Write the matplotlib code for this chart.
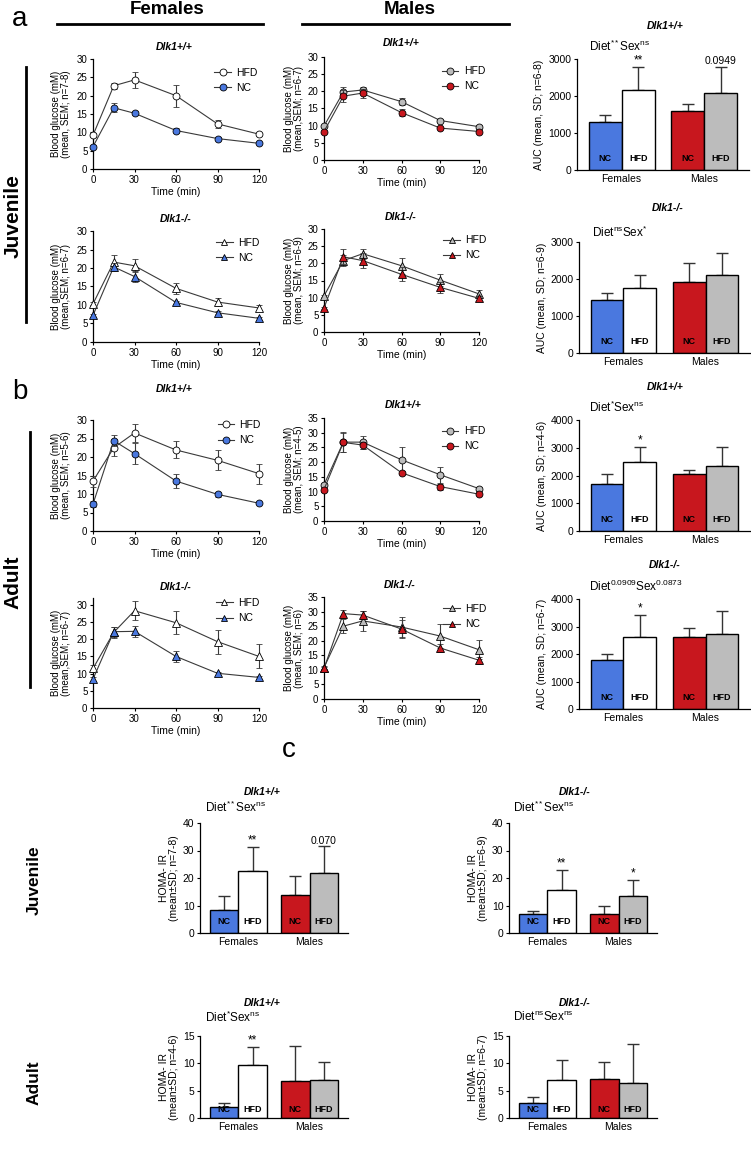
import matplotlib
matplotlib.use("Agg")
import matplotlib.pyplot as plt
from matplotlib.lines import Line2D

plt.rcParams["font.family"] = "Liberation Sans"
plt.rcParams["mathtext.fontset"] = "custom"
plt.rcParams["mathtext.rm"] = "Liberation Sans"
plt.rcParams["mathtext.it"] = "Liberation Sans:italic"
plt.rcParams["mathtext.bf"] = "Liberation Sans:bold"

W, H = 751, 1154
BLUE = "#4a78df"
RED = "#c8171e"
GREY = "#bcbcbc"

# ---- glucose tolerance curves (mean, SEM) ----
time_min = [0, 15, 30, 60, 90, 120]

# juvenile, Dlk1+/+
juv_f_wt_hfd = [9.2, 22.7, 24.3, 20.0, 12.3, 9.5]
juv_f_wt_hfd_sem = [0.5, 0.8, 2.2, 3.0, 1.2, 0.4]
juv_f_wt_nc = [6.1, 16.7, 15.2, 10.5, 8.3, 7.0]
juv_f_wt_nc_sem = [0.4, 1.2, 0.5, 0.7, 0.4, 0.3]
juv_m_wt_hfd = [9.9, 19.8, 20.4, 17.0, 11.5, 9.7]
juv_m_wt_hfd_sem = [0.4, 1.5, 1.0, 1.0, 0.4, 0.4]
juv_m_wt_nc = [8.3, 18.6, 19.5, 13.8, 9.3, 8.3]
juv_m_wt_nc_sem = [0.4, 1.8, 1.3, 1.0, 0.4, 0.3]

# juvenile, Dlk1-/-
juv_f_ko_hfd = [10.3, 21.6, 20.6, 14.5, 10.8, 9.2]
juv_f_ko_hfd_sem = [0.5, 2.0, 1.8, 1.5, 1.0, 0.8]
juv_f_ko_nc = [7.2, 20.3, 17.7, 10.7, 7.9, 6.4]
juv_f_ko_nc_sem = [0.4, 1.0, 1.5, 0.4, 0.4, 0.4]
juv_m_ko_hfd = [10.5, 20.8, 22.8, 19.3, 15.1, 11.1]
juv_m_ko_hfd_sem = [0.4, 1.5, 1.5, 2.3, 1.8, 1.0]
juv_m_ko_nc = [7.0, 21.9, 20.8, 16.8, 13.0, 9.8]
juv_m_ko_nc_sem = [0.4, 2.2, 2.3, 2.0, 1.5, 0.8]

# adult, Dlk1+/+
ad_f_wt_hfd = [13.5, 22.5, 26.5, 21.9, 19.1, 15.5]
ad_f_wt_hfd_sem = [1.5, 2.3, 2.5, 2.3, 2.7, 2.7]
ad_f_wt_nc = [7.3, 24.4, 20.9, 13.5, 9.9, 7.5]
ad_f_wt_nc_sem = [0.8, 1.5, 2.9, 1.8, 0.6, 0.3]
ad_m_wt_hfd = [12.3, 26.8, 26.8, 20.8, 15.7, 11.0]
ad_m_wt_hfd_sem = [0.5, 3.4, 2.2, 4.5, 2.8, 0.4]
ad_m_wt_nc = [10.7, 26.7, 25.8, 16.4, 11.7, 9.1]
ad_m_wt_nc_sem = [0.5, 3.3, 1.2, 0.5, 1.0, 0.4]

# adult, Dlk1-/-
ad_f_ko_hfd = [11.5, 22.0, 28.3, 24.8, 19.3, 15.0]
ad_f_ko_hfd_sem = [1.0, 1.5, 2.7, 3.3, 3.5, 3.5]
ad_f_ko_nc = [8.4, 22.2, 22.3, 15.0, 10.1, 8.9]
ad_f_ko_nc_sem = [0.5, 1.5, 1.5, 1.5, 0.5, 0.4]
ad_m_ko_hfd = [10.8, 25.0, 26.8, 24.7, 21.6, 16.9]
ad_m_ko_hfd_sem = [0.5, 2.5, 3.3, 3.3, 4.0, 3.2]
ad_m_ko_nc = [10.5, 29.3, 28.8, 24.0, 17.5, 13.3]
ad_m_ko_nc_sem = [0.5, 1.4, 1.5, 3.0, 1.5, 1.2]

# ---- bar groups: NC F, HFD F, NC M, HFD M ----
bar_groups = ["NC", "HFD", "NC", "HFD"]
sex_labels = ["Females", "Males"]

auc_juv_wt = [1300, 2170, 1600, 2080]
auc_juv_wt_sd = [200, 620, 190, 710]
auc_juv_ko = [1420, 1770, 1910, 2110]
auc_juv_ko_sd = [190, 330, 520, 600]
auc_ad_wt = [1710, 2500, 2040, 2350]
auc_ad_wt_sd = [350, 530, 150, 660]
auc_ad_ko = [1800, 2610, 2610, 2710]
auc_ad_ko_sd = [200, 800, 350, 870]

homa_juv_wt = [8.2, 22.5, 14.0, 22.0]
homa_juv_wt_sd = [5.2, 8.8, 6.8, 9.5]
homa_juv_ko = [6.8, 15.8, 7.0, 13.6]
homa_juv_ko_sd = [1.3, 7.2, 3.0, 5.7]
homa_ad_wt = [2.1, 9.7, 6.8, 6.9]
homa_ad_wt_sd = [0.7, 3.3, 6.4, 3.4]
homa_ad_ko = [2.8, 6.9, 7.2, 6.4]
homa_ad_ko_sd = [1.1, 3.8, 3.0, 7.2]

fig = plt.figure(figsize=(W / 100, H / 100), dpi=100)


def add_ax(x0, y_top, x1, y_bot):
    return fig.add_axes([x0 / W, 1 - y_bot / H, (x1 - x0) / W, (y_bot - y_top) / H])


def ftext(x, y, s, **kw):
    kw.setdefault("ha", "center")
    kw.setdefault("va", "center")
    fig.text(x / W, 1 - y / H, s, **kw)


def fline(x0, y0, x1, y1, lw=2.0):
    fig.add_artist(Line2D([x0 / W, x1 / W], [1 - y0 / H, 1 - y1 / H], color="black", lw=lw))


def style(ax, fs=7):
    for s in ["top", "right"]:
        ax.spines[s].set_visible(False)
    for s in ["left", "bottom"]:
        ax.spines[s].set_linewidth(0.9)
    ax.tick_params(labelsize=fs, length=2.5, width=0.8, pad=1.5)


def curve_panel(ax, hfd, hfd_sem, nc, nc_sem, marker, hfd_col, nc_col, ymax, ytop, ylabel, leg_xy):
    for vals, sem, col, z in [(hfd, hfd_sem, hfd_col, 3), (nc, nc_sem, nc_col, 4)]:
        cont = ax.errorbar(time_min, vals, yerr=sem, fmt="-", marker=marker, color="#3a3a3a",
                           mfc=col, mec="black", mew=0.6, ms=5 if marker == "o" else 5.5, lw=0.8,
                           elinewidth=0.8, capsize=2.5, capthick=0.8, zorder=z)
        cont[0].set_clip_on(False)
        for a in list(cont[1]) + list(cont[2]):
            a.set_clip_on(False)
    ax.set_xlim(0, 120)
    ax.set_ylim(0, ytop)
    ax.set_xticks([0, 30, 60, 90, 120])
    ax.set_yticks(range(0, ymax + 1, 5))
    ax.spines["left"].set_bounds(0, ytop)
    ax.set_xlabel("Time (min)", fontsize=7.5, labelpad=2)
    ax.set_ylabel(ylabel, fontsize=7, linespacing=1.0)
    ax.yaxis.set_label_coords(-0.13, 0.5)
    style(ax)
    handles = [Line2D([], [], color="#3a3a3a", marker=marker, mfc=c, mec="black", mew=0.6,
                      ms=5, lw=0.8) for c in (hfd_col, nc_col)]
    ax.legend(handles, ["HFD", "NC"], loc="upper left", bbox_to_anchor=leg_xy, frameon=False,
              fontsize=7.5, handlelength=1.6, handletextpad=0.5, labelspacing=0.5,
              borderpad=0, borderaxespad=0, numpoints=1)


def bar_panel(ax, means, sds, ymax, ystep, ylabel, marks, fs=7, lab_x=-0.19):
    xs = [0, 1, 2.5, 3.5]
    cols = [BLUE, "white", RED, GREY]
    ax.bar(xs, means, width=1, color=cols, edgecolor="black", lw=1.0, zorder=2)
    ax.errorbar(xs, means, yerr=[[0] * 4, sds], fmt="none", ecolor="#333333", elinewidth=1.0,
                capsize=4, capthick=1.0, zorder=1)
    for x, g in zip(xs, bar_groups):
        ax.text(x, ymax * 0.1, g, ha="center", va="center", fontsize=6.5, fontweight="bold")
    for x, m, sd, s in zip(xs, means, sds, marks):
        if s:
            ax.text(x, m + sd + ymax * 0.005, s, ha="center", va="bottom",
                    fontsize=8.5 if "*" in s else 7.5)
    ax.set_xlim(-0.85, 4.35)
    ax.set_ylim(0, ymax)
    ax.set_yticks(range(0, ymax + 1, ystep))
    ax.set_xticks([0.5, 3.0])
    ax.set_xticklabels(sex_labels, fontsize=fs + 1)
    ax.set_ylabel(ylabel, fontsize=7.5, linespacing=1.0)
    ax.yaxis.set_label_coords(lab_x, 0.5)
    style(ax, fs + 0.5)
    ax.tick_params(axis="x", length=0, pad=3)


# ---- headers ----
ftext(20, 19, "a", fontsize=20)
ftext(20, 392, "b", fontsize=20)
ftext(289, 750, "c", fontsize=20)
ftext(167, 9, "Females", fontsize=13.5, fontweight="bold")
ftext(410, 9, "Males", fontsize=13.5, fontweight="bold")
fline(57, 24, 263, 24)
fline(302, 24, 509, 24)
ftext(13, 216, "Juvenile", fontsize=15, fontweight="bold", rotation=90)
fline(26, 67, 26, 322)
ftext(13, 582, "Adult", fontsize=15, fontweight="bold", rotation=90)
fline(30, 432, 30, 687)
ftext(34, 880, "Juvenile", fontsize=12.5, fontweight="bold", rotation=90)
ftext(34, 1083, "Adult", fontsize=12.5, fontweight="bold", rotation=90)

tkw = dict(fontsize=7.5, fontweight="bold", style="italic")
dkw = dict(fontsize=8.5, ha="left")

# ---- panel a: juvenile curves ----
ax = add_ax(93, 59, 259, 169)
curve_panel(ax, juv_f_wt_hfd, juv_f_wt_hfd_sem, juv_f_wt_nc, juv_f_wt_nc_sem, "o", "white", BLUE,
            30, 30, "Blood glucose (mM)\n(mean, SEM; n=7-8)", (0.73, 0.92))
ftext(174, 47, "Dlk1+/+", **tkw)

ax = add_ax(324, 57, 479, 160)
curve_panel(ax, juv_m_wt_hfd, juv_m_wt_hfd_sem, juv_m_wt_nc, juv_m_wt_nc_sem, "o", GREY, RED,
            30, 30, "Blood glucose (mM)\n(mean,SEM; n=6-7)", (0.76, 0.91))
ftext(401, 43, "Dlk1+/+", **tkw)

ax = add_ax(93, 231, 259, 342)
curve_panel(ax, juv_f_ko_hfd, juv_f_ko_hfd_sem, juv_f_ko_nc, juv_f_ko_nc_sem, "^", "white", BLUE,
            30, 30, "Blood glucose (mM)\n(mean,SEM; n=6-7)", (0.74, 0.94))
ftext(176, 219, "Dlk1-/-", **tkw)

ax = add_ax(324, 229, 479, 332)
curve_panel(ax, juv_m_ko_hfd, juv_m_ko_hfd_sem, juv_m_ko_nc, juv_m_ko_nc_sem, "^", GREY, RED,
            30, 30, "Blood glucose (mM)\n(mean, SEM; n=6-9)", (0.77, 0.94))
ftext(401, 217, "Dlk1-/-", **tkw)

# ---- panel a: AUC ----
ax = add_ax(577, 59, 749, 170)
bar_panel(ax, auc_juv_wt, auc_juv_wt_sd, 3000, 1000, "AUC (mean, SD; n=6-8)",
          ["", "**", "", "0.0949"])
ftext(665, 26, "Dlk1+/+", **tkw)
ftext(589, 46, "Diet$^{**}$Sex$^{\\mathrm{ns}}$", **dkw)

ax = add_ax(579, 242, 750, 353)
bar_panel(ax, auc_juv_ko, auc_juv_ko_sd, 3000, 1000, "AUC (mean, SD; n=6-9)", ["", "", "", ""])
ftext(668, 208, "Dlk1-/-", **tkw)
ftext(592, 232, "Diet$^{\\mathrm{ns}}$Sex$^{*}$", **dkw)

# ---- panel b: adult curves ----
ax = add_ax(93, 420, 259, 531)
curve_panel(ax, ad_f_wt_hfd, ad_f_wt_hfd_sem, ad_f_wt_nc, ad_f_wt_nc_sem, "o", "white", BLUE,
            30, 30, "Blood glucose (mM)\n(mean, SEM; n=5-6)", (0.75, 1.0))
ftext(174, 389, "Dlk1+/+", **tkw)

ax = add_ax(324, 418, 479, 521)
curve_panel(ax, ad_m_wt_hfd, ad_m_wt_hfd_sem, ad_m_wt_nc, ad_m_wt_nc_sem, "o", GREY, RED,
            35, 35, "Blood glucose (mM)\n(mean, SEM; n=4-5)", (0.76, 0.92))
ftext(403, 405, "Dlk1+/+", **tkw)

ax = add_ax(93, 598, 259, 708)
curve_panel(ax, ad_f_ko_hfd, ad_f_ko_hfd_sem, ad_f_ko_nc, ad_f_ko_nc_sem, "^", "white", BLUE,
            30, 32, "Blood glucose (mM)\n(mean,SEM; n=6-7)", (0.74, 1.0))
ftext(176, 587, "Dlk1-/-", **tkw)

ax = add_ax(324, 597, 479, 699)
curve_panel(ax, ad_m_ko_hfd, ad_m_ko_hfd_sem, ad_m_ko_nc, ad_m_ko_nc_sem, "^", GREY, RED,
            35, 35, "Blood glucose (mM)\n(mean, SEM; n=6)", (0.77, 0.93))
ftext(400, 585, "Dlk1-/-", **tkw)

# ---- panel b: AUC ----
ax = add_ax(579, 420, 750, 531)
bar_panel(ax, auc_ad_wt, auc_ad_wt_sd, 4000, 1000, "AUC (mean, SD; n=4-6)", ["", "*", "", ""])
ftext(665, 387, "Dlk1+/+", **tkw)
ftext(589, 407, "Diet$^{*}$Sex$^{\\mathrm{ns}}$", **dkw)

ax = add_ax(579, 599, 750, 709)
bar_panel(ax, auc_ad_ko, auc_ad_ko_sd, 4000, 1000, "AUC (mean, SD; n=6-7)", ["", "*", "", ""])
ftext(665, 565, "Dlk1-/-", **tkw)
ftext(589, 586, "Diet$^{0.0909}$Sex$^{0.0873}$", **dkw)

# ---- panel c: HOMA-IR ----
ax = add_ax(200, 823, 348, 933)
bar_panel(ax, homa_juv_wt, homa_juv_wt_sd, 40, 10, "HOMA- IR\n(mean\u00b1SD; n=7-8)",
          ["", "**", "", "0.070"], lab_x=-0.14)
ftext(262, 792, "Dlk1+/+", **tkw)
ftext(205, 807, "Diet$^{**}$Sex$^{\\mathrm{ns}}$", **dkw)

ax = add_ax(509, 823, 657, 933)
bar_panel(ax, homa_juv_ko, homa_juv_ko_sd, 40, 10, "HOMA- IR\n(mean\u00b1SD; n=6-9)",
          ["", "**", "", "*"], lab_x=-0.14)
ftext(575, 792, "Dlk1-/-", **tkw)
ftext(513, 807, "Diet$^{**}$Sex$^{\\mathrm{ns}}$", **dkw)

ax = add_ax(200, 1036, 348, 1118)
bar_panel(ax, homa_ad_wt, homa_ad_wt_sd, 15, 5, "HOMA- IR\n(mean\u00b1SD; n=4-6)",
          ["", "**", "", ""], lab_x=-0.14)
ftext(262, 1003, "Dlk1+/+", **tkw)
ftext(205, 1017, "Diet$^{*}$Sex$^{\\mathrm{ns}}$", **dkw)

ax = add_ax(509, 1036, 657, 1118)
bar_panel(ax, homa_ad_ko, homa_ad_ko_sd, 15, 5, "HOMA- IR\n(mean\u00b1SD; n=6-7)",
          ["", "", "", ""], lab_x=-0.14)
ftext(575, 1003, "Dlk1-/-", **tkw)
ftext(513, 1017, "Diet$^{\\mathrm{ns}}$Sex$^{\\mathrm{ns}}$", **dkw)

fig.savefig("out.png", dpi=100)
